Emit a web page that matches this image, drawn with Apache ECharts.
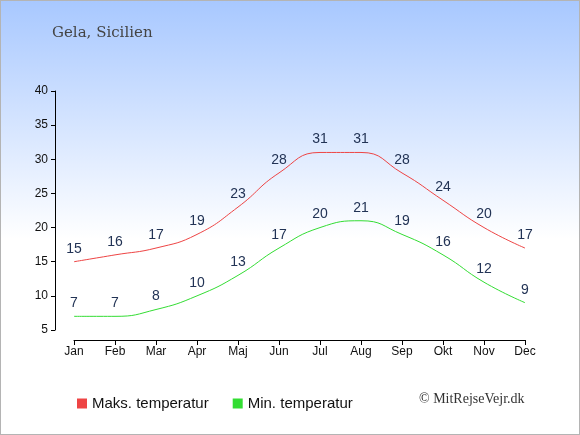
<!DOCTYPE html>
<html>
<head>
<meta charset="utf-8">
<script src="https://cdn.jsdelivr.net/npm/echarts@6/dist/echarts.min.js"></script>
<style>
  html, body { margin: 0; padding: 0; }
  #chart { width: 578px; height: 433px; border: 1px solid #b4b4b4; }
</style>
</head>
<body>
<div id="chart"></div>
<script>
// data
var months = ['Jan', 'Feb', 'Mar', 'Apr', 'Maj', 'Jun', 'Jul', 'Aug', 'Sep', 'Okt', 'Nov', 'Dec'];
var maxTemp = [15, 16, 17, 19, 23, 28, 31, 31, 28, 24, 20, 17];
var minTemp = [7, 7, 8, 10, 13, 17, 20, 21, 19, 16, 12, 9];

var chart = echarts.init(document.getElementById('chart'));

var labelStyle = {
    show: true,
    position: 'top',
    distance: 6,
    color: '#223355',
    fontSize: 14,
    fontFamily: 'Liberation Sans, Arial, sans-serif'
};

var option = {
    backgroundColor: new echarts.graphic.LinearGradient(0, 0, 0, 1, [
        { offset: 0, color: '#a8c8ff' },
        { offset: 0.55, color: '#ffffff' },
        { offset: 1, color: '#ffffff' }
    ]),
    title: {
        text: 'Gela, Sicilien',
        left: 46,
        top: 20,
        textStyle: {
            fontFamily: 'DejaVu Serif, serif',
            fontWeight: 'normal',
            fontSize: 15,
            color: '#444444'
        }
    },
    legend: {
        top: 390,
        left: 71,
        itemWidth: 10,
        itemHeight: 10,
        itemGap: 24,
        icon: 'rect',
        textStyle: {
            fontFamily: 'Liberation Sans, Arial, sans-serif',
            fontSize: 15,
            color: '#111111'
        },
        data: ['Maks. temperatur', 'Min. temperatur']
    },
    graphic: [{
        type: 'text',
        left: 418,
        top: 391,
        style: {
            text: '© MitRejseVejr.dk',
            font: '14px "Liberation Serif", serif',
            fill: '#333333'
        }
    }],
    grid: {
        left: 73,
        right: 54,
        top: 90,
        bottom: 104
    },
    xAxis: {
        type: 'category',
        data: months,
        boundaryGap: false,
        offset: 10,
        axisLine: { lineStyle: { color: '#000', width: 1 } },
        axisTick: { alignWithLabel: true, length: 5, inside: false },
        axisLabel: {
            color: '#111',
            fontSize: 12,
            fontFamily: 'Liberation Sans, Arial, sans-serif',
            margin: 6
        },
        splitLine: { show: false }
    },
    yAxis: {
        type: 'value',
        min: 5,
        max: 40,
        interval: 5,
        offset: 19,
        axisLine: { show: true, lineStyle: { color: '#000', width: 1 } },
        axisTick: { show: true, length: 4 },
        axisLabel: {
            color: '#111',
            fontSize: 12,
            fontFamily: 'Liberation Sans, Arial, sans-serif',
            margin: 7
        },
        splitLine: { show: false }
    },
    series: [{
        name: 'Maks. temperatur',
        type: 'line',
        data: maxTemp,
        smooth: 0.5,
        symbol: 'circle',
        symbolSize: 0,
        showSymbol: true,
        itemStyle: { color: '#ee4444' },
        lineStyle: { width: 1, color: '#ee4444' },
        label: labelStyle
    }, {
        name: 'Min. temperatur',
        type: 'line',
        data: minTemp,
        smooth: 0.5,
        symbol: 'circle',
        symbolSize: 0,
        showSymbol: true,
        itemStyle: { color: '#33dd33' },
        lineStyle: { width: 1, color: '#33dd33' },
        label: labelStyle
    }]
};

chart.setOption(option);
</script>
</body>
</html>
